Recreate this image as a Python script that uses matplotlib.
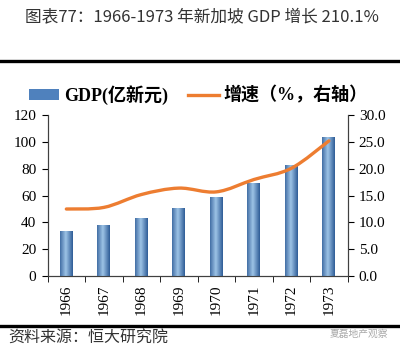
import numpy as np
import matplotlib
matplotlib.use('Agg')
import matplotlib.pyplot as plt
from matplotlib.path import Path
from matplotlib.patches import PathPatch, Patch
from matplotlib.lines import Line2D

years = ['1966', '1967', '1968', '1969', '1970', '1971', '1972', '1973']
gdp = [33.6, 38.0, 43.5, 51.0, 59.2, 69.7, 82.9, 103.8]
growth = [12.5, 12.8, 15.2, 16.4, 15.7, 18.0, 20.1, 25.2]

SERIF = ['Liberation Serif', 'Noto Sans CJK SC']
CJK = ['Noto Sans CJK SC', 'DejaVu Sans']
ORANGE = '#ED7D31'


def smooth_path(xs, ys):
    # Catmull-Rom style bezier through the points (like Excel smoothed line)
    xs = np.asarray(xs, float)
    ys = np.asarray(ys, float)
    n = len(xs)
    verts = [(xs[0], ys[0])]
    codes = [Path.MOVETO]
    for i in range(n - 1):
        p0 = np.array([xs[max(i - 1, 0)], ys[max(i - 1, 0)]])
        p1 = np.array([xs[i], ys[i]])
        p2 = np.array([xs[i + 1], ys[i + 1]])
        p3 = np.array([xs[min(i + 2, n - 1)], ys[min(i + 2, n - 1)]])
        c1 = p1 + (p2 - p0) / 6.0
        c2 = p2 - (p3 - p1) / 6.0
        verts += [tuple(c1), tuple(c2), tuple(p2)]
        codes += [Path.CURVE4] * 3
    return Path(verts, codes)


fig = plt.figure(figsize=(4.0, 3.51), dpi=100)
ax = fig.add_axes([0.119, 0.2137, 0.75, 0.458])

x = np.arange(len(years))
bars = ax.bar(x, gdp, width=0.34, color='#4F81BD', zorder=2)

# cylinder-like horizontal gradient on each bar
grad = np.linspace(0, 1, 64)
shade = 1 - np.abs(grad - 0.45) * 1.6
shade = np.clip(shade, 0, 1)[None, :]
cmap = matplotlib.colors.LinearSegmentedColormap.from_list('b', ['#1F4E8C', '#9DC3E6'])
for b in bars:
    x0, w, h = b.get_x(), b.get_width(), b.get_height()
    im = ax.imshow(shade, cmap=cmap, vmin=0, vmax=1, aspect='auto',
                   extent=(x0, x0 + w, 0, h), zorder=3)
    im.set_clip_path(b)

ax.set_xlim(-0.5, len(years) - 0.5)
ax.set_ylim(0, 120)
ax.set_yticks(range(0, 121, 20))
ax.set_xticks(x)
ax.set_xticklabels(years, rotation=90, fontsize=11, family=SERIF)
ax.set_xticks(np.arange(-0.5, len(years)), minor=True)
ax.tick_params(axis='x', which='major', length=0, pad=6)
ax.tick_params(axis='x', which='minor', length=4, direction='out')
ax.tick_params(axis='y', length=4, direction='out', labelsize=11, pad=4)
for lab in ax.get_yticklabels():
    lab.set_family(SERIF)
ax.spines['top'].set_visible(False)
for s in ['left', 'bottom', 'right']:
    ax.spines[s].set_color('#404040')

ax2 = ax.twinx()
ax2.set_ylim(0, 30)
ax2.set_yticks(np.arange(0, 31, 5))
ax2.set_yticklabels([f'{v:.1f}' for v in np.arange(0, 31, 5)], family=SERIF, fontsize=11)
ax2.tick_params(axis='y', length=4, direction='out', pad=4)
ax2.spines['top'].set_visible(False)
for s in ['left', 'bottom', 'right']:
    ax2.spines[s].set_color('#404040')
ax2.add_patch(PathPatch(smooth_path(x, growth), fill=False, edgecolor=ORANGE,
                        linewidth=2.4, capstyle='round', zorder=4))
ax.set_zorder(ax2.get_zorder() - 1)
ax2.patch.set_visible(False)

# title and rules
fig.text(0.062, 1 - 17 / 351, '图表77：1966-1973 年新加坡 GDP 增长 210.1%',
         family=CJK, fontsize=12, va='center', ha='left', color='#333333')
fig.add_artist(Line2D([0, 1], [1 - 61 / 351] * 2, color='black', linewidth=2.4))
fig.add_artist(Line2D([0, 1], [1 - 326 / 351] * 2, color='black', linewidth=2.4))

# legend
handles = [Patch(facecolor='#4F81BD', edgecolor='none'),
           Line2D([], [], color=ORANGE, linewidth=2.4)]
fig.legend(handles, ['GDP(亿新元)', '增速（%，右轴）'], ncol=2, loc='center',
           bbox_to_anchor=(0.495, 1 - 95 / 351), frameon=False,
           prop={'family': SERIF, 'weight': 'bold', 'size': 13},
           handlelength=1.7, handleheight=0.5, columnspacing=1.1, handletextpad=0.25)

# source
fig.text(0.02, 1 - 338 / 351, '资料来源：恒大研究院', family=CJK, style='italic',
         fontsize=11.5, va='center', ha='left', color='#333333')
fig.text(0.97, 1 - 334 / 351, '夏磊地产观察', family=CJK, fontsize=7,
         va='center', ha='right', color='#aaaaaa')

fig.savefig('out.png', dpi=100)
